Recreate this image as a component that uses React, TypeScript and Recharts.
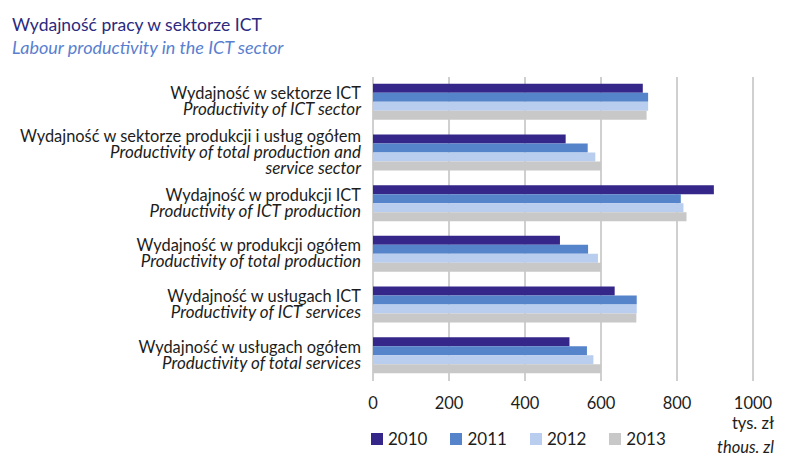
import { BarChart, Bar, XAxis, YAxis, CartesianGrid, Legend } from "recharts";

const labelsPl = [
  "Wydajność w sektorze ICT",
  "Wydajność w sektorze produkcji i usług ogółem",
  "Wydajność w produkcji ICT",
  "Wydajność w produkcji ogółem",
  "Wydajność w usługach ICT",
  "Wydajność w usługach ogółem",
];

const labelsEn = [
  ["Productivity of ICT sector"],
  ["Productivity of total production and", "service sector"],
  ["Productivity of ICT production"],
  ["Productivity of total production"],
  ["Productivity of ICT services"],
  ["Productivity of total services"],
];

const years = ["2010", "2011", "2012", "2013"];
const colors = ["#35278a", "#5584ca", "#b9cdee", "#c8c8c8"];

const v2010 = [710, 507, 897, 492, 636, 517];
const v2011 = [724, 565, 810, 566, 694, 563];
const v2012 = [724, 585, 817, 592, 694, 580];
const v2013 = [720, 600, 825, 600, 693, 600];

const xTicks = [0, 200, 400, 600, 800, 1000];

const data = labelsPl.map((name, i) => ({
  name,
  "2010": v2010[i],
  "2011": v2011[i],
  "2012": v2012[i],
  "2013": v2013[i],
}));

const FONT = "Lato, 'Open Sans', sans-serif";

function CategoryTick(props: any) {
  const { x, y, payload } = props;
  const i = labelsPl.indexOf(payload.value);
  const lines = [
    { text: labelsPl[i], italic: false },
    ...labelsEn[i].map((t) => ({ text: t, italic: true })),
  ];
  const step = 16;
  const first = -((lines.length - 1) * step) / 2 + 5;
  return (
    <g>
      {lines.map((l, k) => (
        <text
          key={k}
          x={x}
          y={y + first + k * step}
          textAnchor="end"
          fontSize={l.italic ? 17 : 16.4}
          fill="#1d1d1b"
          fontStyle={l.italic ? "italic" : "normal"}
        >
          {l.text}
        </text>
      ))}
    </g>
  );
}

function LegendContent() {
  return (
    <div style={{ display: "flex", gap: 23, fontSize: 17, color: "#1d1d1b", fontFamily: FONT }}>
      {years.map((y, i) => (
        <div key={y} style={{ display: "flex", alignItems: "center", gap: 5 }}>
          <span style={{ width: 12, height: 12, background: colors[i], display: "inline-block" }} />
          <span>{y}</span>
        </div>
      ))}
    </div>
  );
}

export default function App() {
  return (
    <div style={{ position: "absolute", left: 0, top: 0, width: 795, height: 464, fontFamily: FONT, background: "#fff" }}>
      <div style={{ position: "absolute", left: 12, top: 15, fontSize: 17.5, color: "#2b2a7e", lineHeight: "20px" }}>
        Wydajność pracy w sektorze ICT
      </div>
      <div style={{ position: "absolute", left: 12, top: 37, fontSize: 18, fontStyle: "italic", color: "#5a7fd0", lineHeight: "20px" }}>
        Labour productivity in the ICT sector
      </div>
      <BarChart
        width={795}
        height={464}
        data={data}
        layout="vertical"
        margin={{ top: 77, right: 42, left: 0, bottom: 53 }}
        barGap={0}
        barCategoryGap="13.5%"
      >
        <CartesianGrid horizontal={false} vertical stroke="#a0a0a0" strokeWidth={1} />
        <XAxis
          type="number"
          domain={[0, 1000]}
          ticks={xTicks}
          axisLine={false}
          tickLine={false}
          tickSize={0}
          tickMargin={16}
          height={30}
          tick={{ fontSize: 16.5, fill: "#1d1d1b" }}
          interval={0}
        />
        <YAxis
          type="category"
          dataKey="name"
          width={373}
          axisLine={false}
          tickLine={false}
          tickSize={0}
          tickMargin={12}
          tick={<CategoryTick />}
          interval={0}
        />
        {years.map((y, i) => (
          <Bar key={y} dataKey={y} fill={colors[i]} isAnimationActive={false} />
        ))}
        <Legend
          layout="horizontal"
          verticalAlign="middle"
          align="center"
          content={<LegendContent />}
          wrapperStyle={{ top: 428, left: 371, width: 320, height: 20 }}
        />
      </BarChart>
      <div style={{ position: "absolute", right: 21, top: 413, fontSize: 16.5, color: "#1d1d1b", lineHeight: "20px", textAlign: "right" }}>
        tys. zł
      </div>
      <div style={{ position: "absolute", right: 21, top: 437, fontSize: 16.5, fontStyle: "italic", color: "#1d1d1b", lineHeight: "20px", textAlign: "right" }}>
        thous. zl
      </div>
    </div>
  );
}
